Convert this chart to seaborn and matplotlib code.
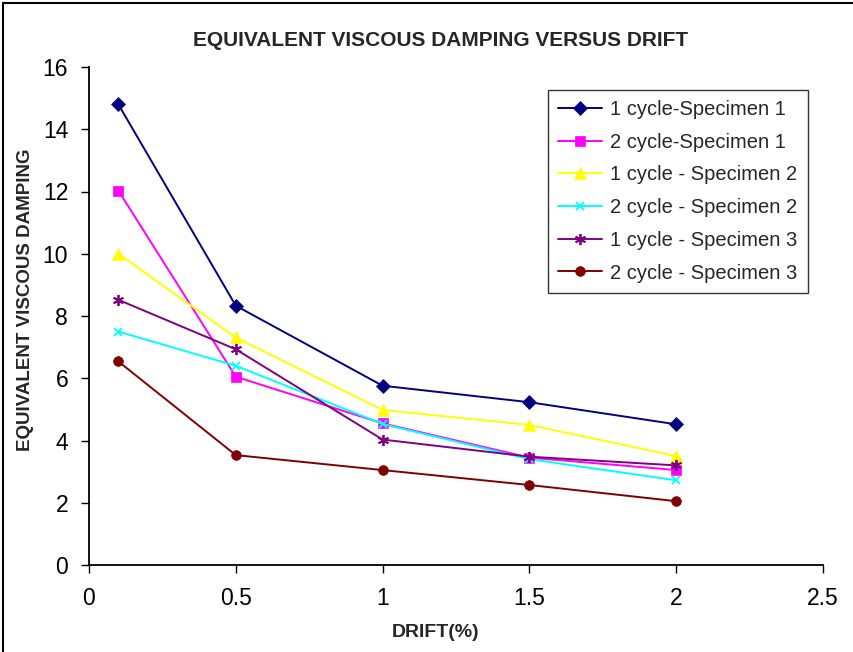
import matplotlib
matplotlib.use("Agg")
import matplotlib.pyplot as plt
from matplotlib.ticker import FuncFormatter, MultipleLocator
from matplotlib.lines import Line2D
import seaborn as sns
import pandas as pd

drift = [0.1, 0.5, 1.0, 1.5, 2.0]
s1_c1 = [14.8, 8.33, 5.76, 5.23, 4.52]
s1_c2 = [12.03, 6.05, 4.55, 3.45, 3.05]
s2_c1 = [10.0, 7.31, 4.98, 4.5, 3.5]
s2_c2 = [7.5, 6.4, 4.53, 3.4, 2.72]
s3_c1 = [8.52, 6.93, 4.03, 3.48, 3.2]
s3_c2 = [6.54, 3.53, 3.05, 2.57, 2.05]

names = ["1 cycle-Specimen 1", "2 cycle-Specimen 1", "1 cycle - Specimen 2",
         "2 cycle - Specimen 2", "1 cycle - Specimen 3", "2 cycle - Specimen 3"]
series = [s1_c1, s1_c2, s2_c1, s2_c2, s3_c1, s3_c2]
colors = ["#000080", "#FF00FF", "#FFFF00", "#00FFFF", "#800080", "#800000"]
markers = ["D", "s", "^", "x", (6, 2, 0), "o"]
sizes = [7, 7, 8, 6, 8, 7]

rows = []
for n, vals in zip(names, series):
    for x, y in zip(drift, vals):
        rows.append({"drift": x, "damping": y, "series": n})
df = pd.DataFrame(rows)

sns.set_theme(style="white")
plt.rcParams["font.family"] = ["Liberation Sans", "DejaVu Sans"]

fig = plt.figure(figsize=(8.54, 6.52), dpi=100)
ax = fig.add_axes([89/854, 1-565/652, (823-89)/854, (565-67)/652])

for n, c, m, s in zip(names, colors, markers, sizes):
    sub = df[df["series"] == n]
    thin = (m == "x") or isinstance(m, tuple)
    sns.lineplot(data=sub, x="drift", y="damping", ax=ax, color=c, marker=m,
                 markersize=s, markeredgecolor=c, markeredgewidth=1.3 if thin else 0.5,
                 linewidth=1.4, label=n, estimator=None)

ax.set_xlim(0, 2.5)
ax.set_ylim(0, 16)
ax.xaxis.set_major_locator(MultipleLocator(0.5))
ax.yaxis.set_major_locator(MultipleLocator(2))
ax.xaxis.set_major_formatter(FuncFormatter(lambda v, p: "%g" % v))
ax.yaxis.set_major_formatter(FuncFormatter(lambda v, p: "%g" % v))
ax.tick_params(axis="both", direction="out", length=6, width=1, labelsize=16.5,
               bottom=True, left=True, colors="black")
ax.tick_params(axis="x", pad=10)
ax.tick_params(axis="y", pad=9)
for side in ["top", "right"]:
    ax.spines[side].set_visible(False)
for side in ["left", "bottom"]:
    ax.spines[side].set_color("black")
    ax.spines[side].set_linewidth(1.3)

ax.set_xlabel("DRIFT(%)", fontsize=14, fontweight="bold")
ax.set_ylabel("EQUIVALENT VISCOUS DAMPING", fontsize=13.5, fontweight="bold")
ax.xaxis.set_label_coords((436-89)/734, -(624-565)/498)
ax.yaxis.set_label_coords(-(89-34)/734, (565-300)/498)
fig.text(441/854, 1 - 40/652, "EQUIVALENT VISCOUS DAMPING VERSUS DRIFT",
         ha="center", va="center", fontsize=15, fontweight="bold")

leg = ax.legend(loc="upper left", bbox_to_anchor=((548-89)/734, 1-(90-67)/498),
                fontsize=14.5, frameon=True, fancybox=False, edgecolor="black",
                handlelength=2.2, borderpad=0.5, labelspacing=0.68, handletextpad=0.4,
                borderaxespad=0)
leg.get_frame().set_linewidth(1.0)

fig.lines.append(Line2D([3/854, 3/854], [0, 1-3/652], transform=fig.transFigure,
                        color="black", linewidth=1.5))
fig.lines.append(Line2D([3/854, 1], [1-3/652, 1-3/652], transform=fig.transFigure,
                        color="black", linewidth=1.5))

fig.savefig("out.png", dpi=100)
